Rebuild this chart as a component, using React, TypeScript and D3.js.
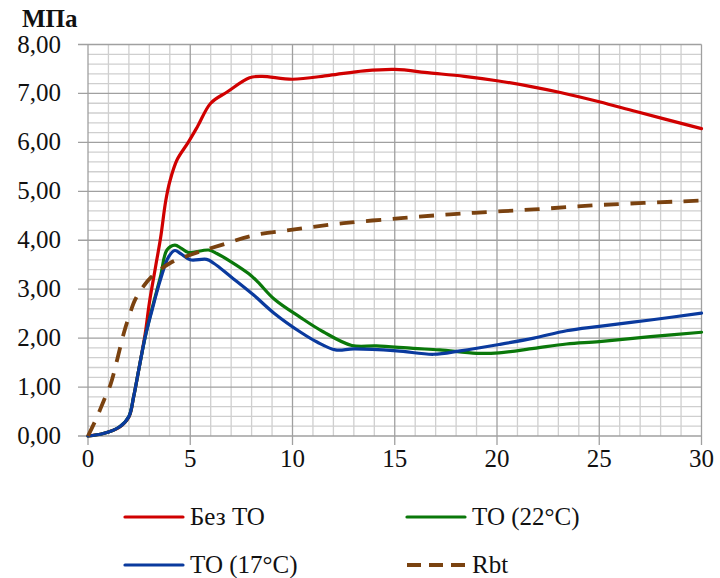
import React from "react";
import * as d3 from "d3";

const xTicks = [0, 5, 10, 15, 20, 25, 30];
const yTicks = [0, 1, 2, 3, 4, 5, 6, 7, 8];

const redX = [0, 0.75, 1.5, 2.0, 2.23, 2.48, 2.8, 3.0, 3.3, 3.55, 3.8, 4.0, 4.35, 4.9, 5.35, 6.0, 6.8, 7.9, 8.5, 10.0, 11.8, 13.5, 15.0, 16.7, 18.4, 20.0, 21.8, 23.1, 25.0, 26.8, 30.0];
const redY = [0, 0.05, 0.17, 0.39, 0.8, 1.35, 2.1, 2.72, 3.45, 4.05, 4.8, 5.2, 5.64, 6.0, 6.32, 6.8, 7.03, 7.32, 7.35, 7.29, 7.37, 7.46, 7.49, 7.42, 7.35, 7.26, 7.13, 7.02, 6.83, 6.63, 6.28];

const greenX = [0, 0.75, 1.55, 2.0, 2.23, 2.48, 2.8, 3.13, 3.54, 3.86, 4.25, 4.55, 4.9, 5.9, 6.3, 7.0, 7.85, 8.3, 9.1, 10.4, 11.5, 12.9, 14.1, 15.9, 17.2, 19.0, 20.1, 21.8, 23.4, 25.0, 27.5, 30.0];
const greenY = [0, 0.05, 0.19, 0.4, 0.8, 1.35, 2.03, 2.6, 3.25, 3.8, 3.9, 3.84, 3.75, 3.8, 3.73, 3.56, 3.32, 3.15, 2.8, 2.42, 2.13, 1.85, 1.84, 1.79, 1.76, 1.69, 1.7, 1.79, 1.88, 1.93, 2.03, 2.12];

const blueX = [0, 0.75, 1.55, 2.0, 2.23, 2.48, 2.8, 3.13, 3.54, 3.94, 4.25, 4.55, 5.0, 5.8, 6.15, 7.0, 8.1, 9.1, 10.4, 11.2, 12.1, 13.0, 15.1, 16.9, 18.2, 20.1, 21.8, 23.4, 25.0, 27.5, 30.0];
const blueY = [0, 0.05, 0.19, 0.4, 0.8, 1.35, 2.03, 2.57, 3.19, 3.66, 3.79, 3.72, 3.6, 3.61, 3.53, 3.25, 2.88, 2.51, 2.12, 1.92, 1.76, 1.78, 1.74, 1.67, 1.74, 1.87, 2.0, 2.15, 2.24, 2.37, 2.51];

const rbtX = [0, 0.4, 0.75, 1.1, 1.45, 1.75, 2.05, 2.3, 2.7, 3.1, 4.0, 5.2, 6.5, 8.1, 10.1, 12.5, 15.3, 17.7, 19.7, 21.8, 25.0, 30.0];
const rbtY = [0, 0.35, 0.7, 1.05, 1.6, 2.1, 2.5, 2.78, 3.05, 3.25, 3.53, 3.73, 3.9, 4.1, 4.22, 4.35, 4.45, 4.53, 4.58, 4.63, 4.72, 4.81];

const seriesNames = ["Без ТО", "ТО (22°C)", "ТО (17°C)", "Rbt"];
const seriesColors = ["#D00000", "#0A780A", "#0A3A9E", "#7A4210"];

const W = 720;
const H = 578;
const L = 88;
const R = 701.5;
const T = 44.5;
const B = 436;
const txt = { fontFamily: "Liberation Serif" } as React.CSSProperties;

export default function App() {
  const x = d3.scaleLinear().domain([0, 30]).range([L, R]);
  const y = d3.scaleLinear().domain([0, 8]).range([B, T]);

  const line = d3
    .line<[number, number]>()
    .x((d) => x(d[0]))
    .y((d) => y(d[1]))
    .curve(d3.curveCatmullRom.alpha(0.5));

  const series = [
    { xs: redX, ys: redY },
    { xs: greenX, ys: greenY },
    { xs: blueX, ys: blueY },
    { xs: rbtX, ys: rbtY },
  ];

  const minorX = d3.range(0, 31, 1).filter((v) => v % 5 !== 0);
  const minorY = d3.range(0, 41, 1).map((v) => v * 0.2).filter((_, i) => i % 5 !== 0);

  const legend = [
    { i: 0, lx: 125, ly: 517 },
    { i: 1, lx: 407, ly: 517 },
    { i: 2, lx: 125, ly: 565 },
    { i: 3, lx: 407, ly: 565 },
  ];

  return (
    <svg
      width={W}
      height={H}
      style={{ position: "absolute", left: 0, top: 0, background: "#fff" }}
    >
      <rect x={0} y={0} width={W} height={H} fill="#fff" />
      {minorX.map((v) => (
        <line key={"mx" + v} x1={x(v)} x2={x(v)} y1={T} y2={B} stroke="#CFCFCF" strokeWidth={1.3} />
      ))}
      {minorY.map((v, i) => (
        <line key={"my" + i} x1={L} x2={R} y1={y(v)} y2={y(v)} stroke="#CFCFCF" strokeWidth={1.3} />
      ))}
      {xTicks.map((v) => (
        <line key={"Mx" + v} x1={x(v)} x2={x(v)} y1={T} y2={B + 9} stroke="#A0A0A0" strokeWidth={1.3} />
      ))}
      {yTicks.map((v) => (
        <line key={"My" + v} x1={L - 10} x2={R} y1={y(v)} y2={y(v)} stroke="#A0A0A0" strokeWidth={1.3} />
      ))}
      {yTicks.map((v) => (
        <text key={"yl" + v} x={61} y={y(v) + 8} textAnchor="end" fontSize={25} fill="#111" style={txt}>
          {d3.format(".2f")(v).replace(".", ",")}
        </text>
      ))}
      {xTicks.map((v) => (
        <text key={"xl" + v} x={x(v)} y={B + 31} textAnchor="middle" fontSize={25} fill="#111" style={txt}>
          {v}
        </text>
      ))}
      <text x={22} y={27} fontSize={25} fontWeight="bold" fill="#111" style={txt}>
        МПа
      </text>
      {series.map((s, i) => (
        <path
          key={"s" + i}
          d={line(s.xs.map((v, k) => [v, s.ys[k]] as [number, number])) || ""}
          fill="none"
          stroke={seriesColors[i]}
          strokeWidth={i === 3 ? 3.8 : 3.2}
          strokeDasharray={i === 3 ? "15 11.5" : undefined}
          strokeLinecap={i === 3 ? "butt" : "round"}
          strokeLinejoin="round"
        />
      ))}
      {legend.map((g) => (
        <g key={"lg" + g.i}>
          <line
            x1={g.lx}
            x2={g.lx + 58}
            y1={g.ly}
            y2={g.ly}
            stroke={seriesColors[g.i]}
            strokeWidth={g.i === 3 ? 3.8 : 3.2}
            strokeDasharray={g.i === 3 ? "14 8" : undefined}
            strokeLinecap={g.i === 3 ? "butt" : "round"}
          />
          <text x={g.lx + 65} y={g.ly + 8} fontSize={25} fill="#111" style={txt}>
            {seriesNames[g.i]}
          </text>
        </g>
      ))}
    </svg>
  );
}
